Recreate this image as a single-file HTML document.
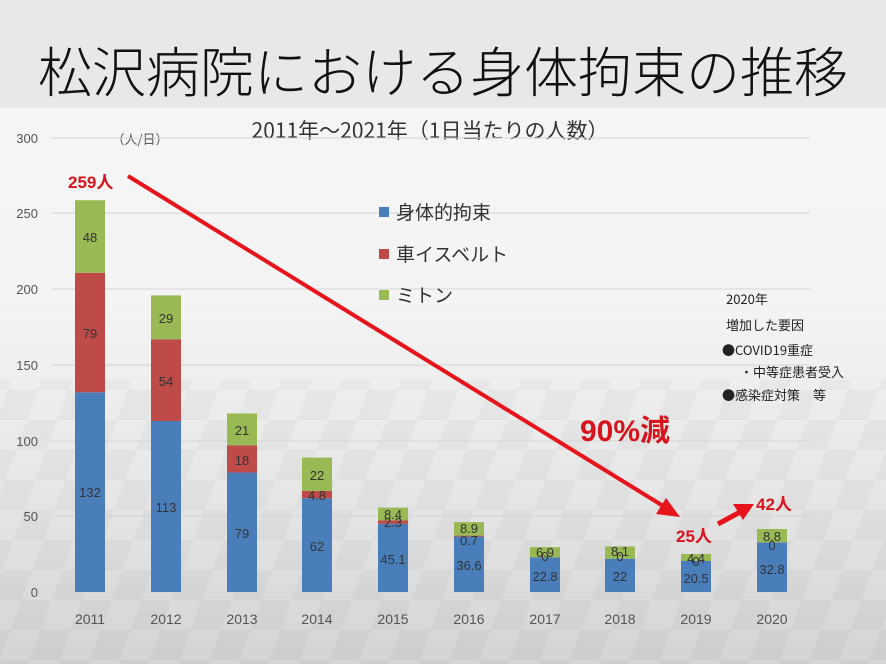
<!DOCTYPE html>
<html><head><meta charset="utf-8"><style>
body{margin:0;width:886px;height:664px;overflow:hidden;font-family:"Liberation Sans","Noto Sans CJK JP",sans-serif}
</style></head><body>
<svg width="886" height="664" xmlns="http://www.w3.org/2000/svg" font-family="Liberation Sans, Noto Sans CJK JP, sans-serif">
<defs>
<linearGradient id="bg" x1="0" y1="0" x2="0" y2="1">
<stop offset="0" stop-color="#f6f6f6"/><stop offset="0.45" stop-color="#f4f4f4"/><stop offset="0.75" stop-color="#e6e6e6"/><stop offset="1" stop-color="#d4d4d4"/>
</linearGradient>
<pattern id="chk" width="60" height="60" patternUnits="userSpaceOnUse" patternTransform="skewX(-20)">
<rect width="30" height="30" fill="#000" opacity="0.03"/><rect x="30" y="30" width="30" height="30" fill="#000" opacity="0.03"/>
</pattern>
</defs>
<rect width="886" height="664" fill="url(#bg)"/>
<rect y="380" width="886" height="284" fill="url(#chk)"/>
<rect width="886" height="108" fill="#e8e8e8"/>
<text x="443" y="92" font-size="54" text-anchor="middle" fill="#111" font-family="Noto Sans CJK JP, sans-serif" font-weight="300">松沢病院における身体拘束の推移</text>
<text x="430" y="138" font-size="21" text-anchor="middle" fill="#333" font-family="Noto Sans CJK JP, sans-serif">2011年～2021年（1日当たりの人数）</text>
<text x="140" y="144" font-size="13" text-anchor="middle" fill="#555" font-family="Noto Sans CJK JP, sans-serif">（人/日）</text>
<g stroke="#d4d4d4" stroke-width="1">
<line x1="52" x2="810" y1="138" y2="138"/><line x1="52" x2="810" y1="213" y2="213"/><line x1="52" x2="810" y1="289" y2="289"/><line x1="52" x2="810" y1="365" y2="365"/><line x1="52" x2="810" y1="441" y2="441"/><line x1="52" x2="810" y1="516" y2="516"/><line x1="52" x2="810" y1="592" y2="592"/>
</g>
<g font-size="13" fill="#555" text-anchor="end">
<text x="38" y="143">300</text><text x="38" y="218">250</text><text x="38" y="294">200</text><text x="38" y="370">150</text><text x="38" y="446">100</text><text x="38" y="521">50</text><text x="38" y="597">0</text>
</g>
<g font-size="14" fill="#555" text-anchor="middle">
<text x="90" y="624">2011</text><text x="166" y="624">2012</text><text x="242" y="624">2013</text><text x="317" y="624">2014</text><text x="393" y="624">2015</text><text x="469" y="624">2016</text><text x="545" y="624">2017</text><text x="620" y="624">2018</text><text x="696" y="624">2019</text><text x="772" y="624">2020</text>
</g>
<g>
<rect x="75" y="392.3" width="30" height="199.7" fill="#4a7ebb"/><rect x="75" y="272.8" width="30" height="119.5" fill="#be4b48"/><rect x="75" y="200.2" width="30" height="72.6" fill="#98b954"/>
<rect x="151" y="421" width="30" height="171" fill="#4a7ebb"/><rect x="151" y="339.3" width="30" height="81.7" fill="#be4b48"/><rect x="151" y="295.4" width="30" height="43.9" fill="#98b954"/>
<rect x="227" y="472.5" width="30" height="119.5" fill="#4a7ebb"/><rect x="227" y="445.3" width="30" height="27.2" fill="#be4b48"/><rect x="227" y="413.5" width="30" height="31.8" fill="#98b954"/>
<rect x="302" y="498.2" width="30" height="93.8" fill="#4a7ebb"/><rect x="302" y="490.9" width="30" height="7.3" fill="#be4b48"/><rect x="302" y="457.6" width="30" height="33.3" fill="#98b954"/>
<rect x="378" y="523.8" width="30" height="68.2" fill="#4a7ebb"/><rect x="378" y="520.3" width="30" height="3.5" fill="#be4b48"/><rect x="378" y="507.6" width="30" height="12.7" fill="#98b954"/>
<rect x="454" y="536.6" width="30" height="55.4" fill="#4a7ebb"/><rect x="454" y="535.6" width="30" height="1" fill="#be4b48"/><rect x="454" y="522.1" width="30" height="13.5" fill="#98b954"/>
<rect x="530" y="557.5" width="30" height="34.5" fill="#4a7ebb"/><rect x="530" y="547.1" width="30" height="10.4" fill="#98b954"/>
<rect x="605" y="558.7" width="30" height="33.3" fill="#4a7ebb"/><rect x="605" y="546.4" width="30" height="12.3" fill="#98b954"/>
<rect x="681" y="561" width="30" height="31" fill="#4a7ebb"/><rect x="681" y="554" width="30" height="7" fill="#98b954"/>
<rect x="757" y="542.4" width="30" height="49.6" fill="#4a7ebb"/><rect x="757" y="529" width="30" height="13.4" fill="#98b954"/>
</g>
<g font-size="13" fill="#333" text-anchor="middle">
<text x="90" y="497">132</text><text x="90" y="338">79</text><text x="90" y="242">48</text>
<text x="166" y="512">113</text><text x="166" y="386">54</text><text x="166" y="323">29</text>
<text x="242" y="538">79</text><text x="242" y="465">18</text><text x="242" y="435">21</text>
<text x="317" y="551">62</text><text x="317" y="500">4.8</text><text x="317" y="480">22</text>
<text x="393" y="564">45.1</text><text x="393" y="527">2.3</text><text x="393" y="519">8.4</text>
<text x="469" y="570">36.6</text><text x="469" y="545">0.7</text><text x="469" y="533">8.9</text>
<text x="545" y="581">22.8</text><text x="545" y="561">0</text><text x="545" y="557">6.9</text>
<text x="620" y="581">22</text><text x="620" y="561">0</text><text x="620" y="556">8.1</text>
<text x="696" y="583">20.5</text><text x="696" y="566">0</text><text x="696" y="563">4.4</text>
<text x="772" y="574">32.8</text><text x="772" y="550">0</text><text x="772" y="541">8.8</text>
</g>
<rect x="379" y="207" width="10" height="10" fill="#4a7ebb"/><text x="396" y="219" font-size="19" fill="#333">身体的拘束</text>
<rect x="379" y="249" width="10" height="10" fill="#be4b48"/><text x="396" y="261" font-size="19" fill="#333">車イスベルト</text>
<rect x="379" y="290" width="10" height="10" fill="#98b954"/><text x="396" y="302" font-size="19" fill="#333">ミトン</text>
<g font-size="13" fill="#222" font-family="Noto Sans CJK JP, sans-serif">
<text x="726" y="304">2020年</text><text x="726" y="330">増加した要因</text><text x="722" y="355">●COVID19重症</text><text x="740" y="377">・中等症患者受入</text><text x="722" y="400">●感染症対策　等</text>
</g>
<line x1="128" y1="176" x2="668" y2="509" stroke="#e8141c" stroke-width="4"/>
<polygon points="680,517 656,514 666,498" fill="#e8141c"/>
<line x1="718" y1="524" x2="742" y2="511" stroke="#e8141c" stroke-width="5"/>
<polygon points="754,504 733,504 743,520" fill="#e8141c"/>
<g fill="#d7141c" font-weight="bold" font-family="Liberation Sans, Noto Sans CJK JP, sans-serif">
<text x="68" y="188" font-size="17">259人</text>
<text x="580" y="441" font-size="30">90%減</text>
<text x="676" y="542" font-size="17">25人</text>
<text x="756" y="510" font-size="17">42人</text>
</g>
</svg>
</body></html>
